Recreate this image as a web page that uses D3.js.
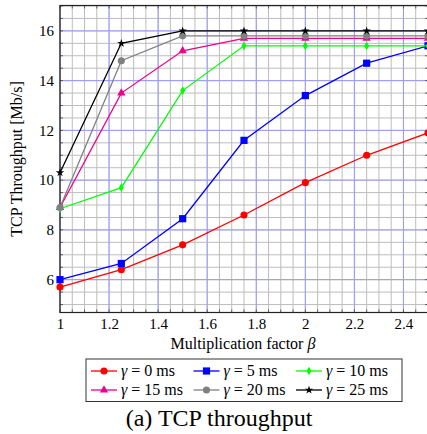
<!DOCTYPE html>
<html>
<head>
<meta charset="utf-8">
<script src="https://cdn.jsdelivr.net/npm/d3@7"></script>
<style>
  body { margin: 0; background: #fff; }
  svg { font-family: "Liberation Serif", "DejaVu Serif", serif; }
  .tick text { font-size: 15px; fill: #000; font-family: "Liberation Serif", serif; }
</style>
</head>
<body>
<svg width="427" height="434"></svg>
<script>
// valori
var beta = [1, 1.25, 1.5, 1.75, 2, 2.25, 2.5];
var gamma0  = [5.7, 6.4, 7.4, 8.6, 9.9, 11.0, 11.9];
var gamma5  = [6.0, 6.65, 8.45, 11.6, 13.4, 14.7, 15.4];
var gamma10 = [8.85, 9.7, 13.6, 15.4, 15.4, 15.4, 15.4];
var gamma15 = [8.9, 13.5, 15.2, 15.7, 15.7, 15.7, 15.7];
var gamma20 = [8.9, 14.8, 15.8, 15.8, 15.8, 15.8, 15.8];
var gamma25 = [10.3, 15.5, 16.0, 16.0, 16.0, 16.0, 16.0];
var labels = ["0 ms", "5 ms", "10 ms", "15 ms", "20 ms", "25 ms"];
var colori = ["#ff0000", "#0000ff", "#00ff00", "#ec008c", "#808080", "#000000"];
var simboli = ["circle", "square", "diamond", "triangle", "circle", "star"];
var xTicks = [1, 1.2, 1.4, 1.6, 1.8, 2, 2.2, 2.4];
var yTicks = [6, 8, 10, 12, 14, 16];

var series = [gamma0, gamma5, gamma10, gamma15, gamma20, gamma25];

var svg = d3.select("svg");

var pLeft = 60, pRight = 428, pTop = 5.5, pBottom = 312.5;

var x = d3.scaleLinear().domain([1, 2.5]).range([pLeft, pRight]);
var y = d3.scaleLinear().domain([4.68, 17.02]).range([pBottom, pTop]);

//griglia minore
var g = svg.append("g");
g.selectAll(".vmin").data(d3.range(1, 2.5001, 0.05)).enter().append("line")
  .attr("x1", d => x(d)).attr("x2", d => x(d))
  .attr("y1", pTop).attr("y2", pBottom)
  .attr("stroke", "#bdbdbd").attr("stroke-width", 1);
g.selectAll(".hmin").data(d3.range(5, 17.01, 0.5)).enter().append("line")
  .attr("x1", pLeft).attr("x2", pRight)
  .attr("y1", d => y(d)).attr("y2", d => y(d))
  .attr("stroke", "#bdbdbd").attr("stroke-width", 1);

//griglia maggiore
g.selectAll(".vmaj").data(xTicks).enter().append("line")
  .attr("x1", d => x(d)).attr("x2", d => x(d))
  .attr("y1", pTop).attr("y2", pBottom)
  .attr("stroke", "#9a9aff").attr("stroke-width", 1);
g.selectAll(".hmaj").data(yTicks).enter().append("line")
  .attr("x1", pLeft).attr("x2", pRight)
  .attr("y1", d => y(d)).attr("y2", d => y(d))
  .attr("stroke", "#9a9aff").attr("stroke-width", 1);

//assi
var xAxis = d3.axisBottom(x).tickValues(xTicks).tickSize(0).tickPadding(6)
  .tickFormat(d => String(+d.toFixed(1)));
svg.append("g").attr("transform", "translate(0," + pBottom + ")").call(xAxis)
  .attr("font-family", null)
  .call(a => a.select(".domain").remove());
var yAxis = d3.axisLeft(y).tickValues(yTicks).tickSize(0).tickPadding(6);
svg.append("g").attr("transform", "translate(" + pLeft + ",0)").call(yAxis)
  .attr("font-family", null)
  .call(a => a.select(".domain").remove());

//tacche minori
var tk = svg.append("g").attr("stroke", "#444").attr("stroke-width", 0.8);
tk.selectAll(".ty").data(d3.range(5, 17.01, 0.5)).enter().append("line")
  .attr("x1", pLeft).attr("x2", pLeft + 3).attr("y1", d => y(d)).attr("y2", d => y(d));
tk.selectAll(".ty2").data(d3.range(5, 17.01, 0.5)).enter().append("line")
  .attr("x1", pRight - 3).attr("x2", pRight).attr("y1", d => y(d)).attr("y2", d => y(d));
tk.selectAll(".tx").data(d3.range(1, 2.5001, 0.05)).enter().append("line")
  .attr("x1", d => x(d)).attr("x2", d => x(d)).attr("y1", pBottom).attr("y2", pBottom - 3);
tk.selectAll(".tx2").data(d3.range(1, 2.5001, 0.05)).enter().append("line")
  .attr("x1", d => x(d)).attr("x2", d => x(d)).attr("y1", pTop).attr("y2", pTop + 3);

//cornice
svg.append("rect").attr("x", pLeft).attr("y", pTop)
  .attr("width", pRight - pLeft).attr("height", pBottom - pTop)
  .attr("fill", "none").attr("stroke", "#222").attr("stroke-width", 1.2);

function simbolo(tipo) {
  if (tipo == "circle") return d3.symbol(d3.symbolCircle, 40);
  if (tipo == "square") return d3.symbol(d3.symbolSquare, 52);
  if (tipo == "diamond") return d3.symbol(d3.symbolDiamond, 22);
  if (tipo == "triangle") return d3.symbol(d3.symbolTriangle, 30);
  return d3.symbol(d3.symbolStar, 22);
}

var line = d3.line().x((d, i) => x(beta[i])).y(d => y(d));

series.forEach(function(s, k) {
  svg.append("path").datum(s)
    .attr("d", line)
    .attr("fill", "none")
    .attr("stroke", colori[k])
    .attr("stroke-width", 1.3);
  svg.selectAll(".m" + k).data(s).enter().append("path")
    .attr("d", simbolo(simboli[k]))
    .attr("transform", (d, i) => "translate(" + x(beta[i]) + "," + y(d) + ")")
    .attr("fill", colori[k]);
});

//etichette assi
svg.append("text")
  .attr("x", 243).attr("y", 349)
  .attr("text-anchor", "middle").attr("font-size", 16)
  .html("Multiplication factor <tspan font-style='italic'>\u03b2</tspan>");
svg.append("text")
  .attr("transform", "translate(22,159) rotate(-90)")
  .attr("text-anchor", "middle").attr("font-size", 16)
  .text("TCP Throughput [Mb/s]");

//legenda
var leg = svg.append("g");
leg.append("rect").attr("x", 86).attr("y", 359).attr("width", 316).attr("height", 42.5)
  .attr("fill", "#fff").attr("stroke", "#333").attr("stroke-width", 1);
var colX = [91, 193.5, 296];
var rowY = [371, 390];
labels.forEach(function(l, k) {
  var cx = colX[k % 3], cy = rowY[Math.floor(k / 3)];
  leg.append("line").attr("x1", cx).attr("x2", cx + 26).attr("y1", cy).attr("y2", cy)
    .attr("stroke", colori[k]).attr("stroke-width", 1.3);
  leg.append("path").attr("d", simbolo(simboli[k]))
    .attr("transform", "translate(" + (cx + 13) + "," + cy + ")")
    .attr("fill", colori[k]);
  leg.append("text").attr("x", cx + 30).attr("y", cy + 5)
    .attr("font-size", 16)
    .html("<tspan font-style='italic'>\u03b3</tspan> = " + l);
});

//didascalia
svg.append("text").attr("x", 219).attr("y", 426)
  .attr("text-anchor", "middle").attr("font-size", 24)
  .text("(a) TCP throughput");
</script>
</body>
</html>
